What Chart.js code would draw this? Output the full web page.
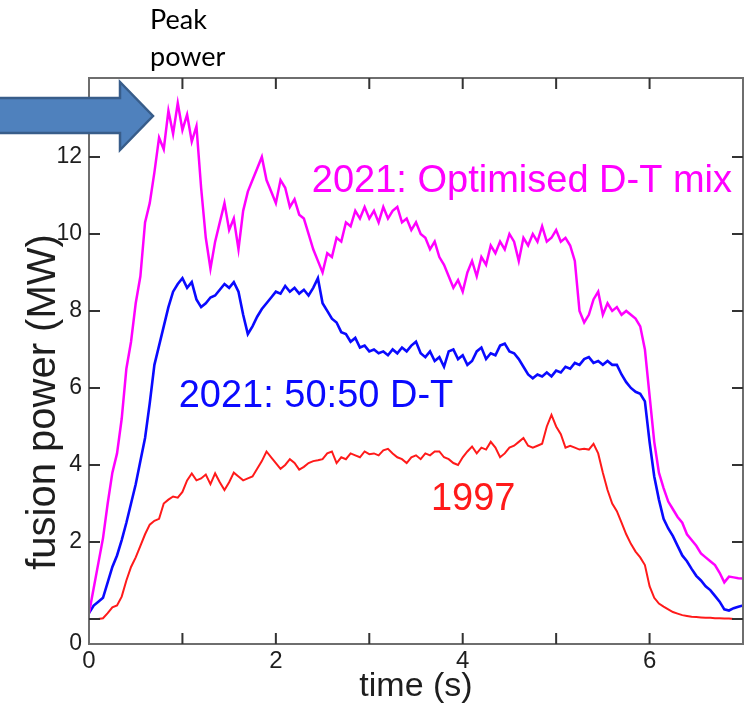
<!DOCTYPE html>
<html>
<head>
<meta charset="utf-8">
<script src="https://cdn.jsdelivr.net/npm/chart.js@4.4.1/dist/chart.umd.min.js"></script>
<style>
html,body{margin:0;padding:0;background:#fff;}
#wrap{width:745px;height:707px;position:relative;}
</style>
</head>
<body>
<div id="wrap"><canvas id="graficoFusion" width="745" height="707"></canvas></div>
<script>
//Datos (tiempo en s, potencia en MW)
const tiempo = [
  0,0.05,0.1,0.15,0.2,0.25,0.3,0.35,0.4,0.45,0.5,0.55,0.6,0.65,0.7,0.75,0.8,0.85,0.9,0.95,
  1,1.05,1.1,1.15,1.2,1.25,1.3,1.35,1.4,1.45,1.5,1.55,1.6,1.65,1.7,1.75,1.8,1.85,1.9,1.95,
  2,2.05,2.1,2.15,2.2,2.25,2.3,2.35,2.4,2.45,2.5,2.55,2.6,2.65,2.7,2.75,2.8,2.85,2.9,2.95,
  3,3.05,3.1,3.15,3.2,3.25,3.3,3.35,3.4,3.45,3.5,3.55,3.6,3.65,3.7,3.75,3.8,3.85,3.9,3.95,
  4,4.05,4.1,4.15,4.2,4.25,4.3,4.35,4.4,4.45,4.5,4.55,4.6,4.65,4.7,4.75,4.8,4.85,4.9,4.95,
  5,5.05,5.1,5.15,5.2,5.25,5.3,5.35,5.4,5.45,5.5,5.55,5.6,5.65,5.7,5.75,5.8,5.85,5.9,5.95,
  6,6.05,6.1,6.15,6.2,6.25,6.3,6.35,6.4,6.45,6.5,6.55,6.6,6.65,6.7,6.75,6.8,6.85,6.9,6.95,
  7
];

const optimizada2021 = [
  0.15,0.8,1.45,2.1,3.0,3.8,4.3,5.2,6.5,7.2,8.2,8.9,10.3,10.8,11.6,12.5,12.2,13.2,12.6,13.4,
  12.7,13.1,12.4,12.8,11.2,9.9,9.1,9.8,10.3,10.8,10.1,10.4,9.6,10.6,11.1,11.4,11.7,12.0,11.4,11.1,
  10.8,11.4,11.2,10.7,10.9,10.5,10.4,10.0,9.6,9.3,9.0,9.5,9.4,9.9,9.8,10.3,10.2,10.6,10.4,10.7,
  10.4,10.6,10.3,10.7,10.4,10.6,10.7,10.3,10.4,10.1,10.3,10.0,9.9,9.6,9.8,9.4,9.2,8.9,8.6,8.8,
  8.5,9.0,9.3,8.9,9.4,9.2,9.7,9.5,9.8,9.6,10.0,9.8,9.3,9.9,9.7,10.0,9.8,10.2,9.8,9.9,
  10.1,9.8,9.9,9.7,9.3,8.0,7.7,7.9,8.3,8.5,7.9,8.2,8.0,8.1,7.9,8.0,7.9,7.8,7.6,7.0,
  5.8,4.6,3.8,3.4,3.05,2.85,2.65,2.5,2.2,2.05,1.9,1.7,1.6,1.5,1.4,1.2,0.95,1.1,1.08,1.06,
  1.05
];

const mezcla5050 = [
  0.15,0.35,0.45,0.55,0.95,1.35,1.65,2.05,2.5,3.0,3.5,4.1,4.7,5.6,6.6,7.1,7.6,8.1,8.5,8.7,
  8.85,8.6,8.75,8.3,8.1,8.2,8.35,8.4,8.55,8.7,8.6,8.75,8.5,7.9,7.4,7.6,7.85,8.05,8.2,8.35,
  8.5,8.45,8.65,8.5,8.6,8.45,8.55,8.4,8.6,8.85,8.2,8.0,7.8,7.7,7.45,7.4,7.2,7.3,7.05,7.1,
  6.95,7.0,6.9,6.95,6.85,7.0,6.9,7.05,6.95,7.1,7.2,6.9,6.8,6.95,6.7,6.8,6.55,6.95,7.0,6.75,
  6.85,6.6,6.7,6.95,7.05,6.75,6.9,6.85,7.1,7.15,6.95,6.9,6.75,6.55,6.35,6.25,6.35,6.3,6.4,6.3,
  6.45,6.4,6.55,6.5,6.65,6.6,6.75,6.8,6.65,6.7,6.6,6.7,6.6,6.6,6.35,6.15,6.0,5.9,5.85,5.65,
  4.6,3.7,3.1,2.6,2.35,2.15,1.9,1.65,1.5,1.3,1.12,1.0,0.85,0.75,0.6,0.45,0.25,0.22,0.28,0.32,
  0.35
];

const record1997 = [
  0,0,0,0.02,0.15,0.3,0.35,0.58,1.0,1.35,1.6,1.9,2.2,2.45,2.55,2.6,3.0,3.1,3.18,3.15,
  3.3,3.6,3.78,3.6,3.65,3.75,3.5,3.78,3.55,3.35,3.55,3.8,3.7,3.6,3.65,3.7,3.9,4.1,4.35,4.2,
  4.05,3.9,4.0,4.15,4.05,3.88,3.95,4.05,4.1,4.12,4.15,4.3,4.35,4.05,4.2,4.15,4.3,4.25,4.2,4.35,
  4.28,4.3,4.25,4.38,4.42,4.3,4.2,4.15,4.05,4.2,4.25,4.15,4.3,4.25,4.35,4.35,4.2,4.15,4.05,4.0,
  4.2,4.35,4.48,4.3,4.45,4.4,4.6,4.45,4.2,4.3,4.45,4.5,4.6,4.7,4.5,4.45,4.5,4.55,5.0,5.3,
  5.0,4.8,4.45,4.5,4.45,4.4,4.42,4.4,4.55,4.3,3.8,3.35,3.0,2.8,2.5,2.2,1.95,1.75,1.6,1.4,
  0.85,0.55,0.4,0.32,0.25,0.18,0.14,0.1,0.08,0.06,0.05,0.04,0.03,0.03,0.02,0.02,0.01,0.01,0,0,
  0
];

//Marcas de los ejes
const marcasX = [1, 2, 3, 4, 5, 6];
const etiquetasX = [0, 2, 4, 6];
const marcasY = [0, 2, 4, 6, 8, 10, 12];
const baseY = -0.65;

//Textos dentro del grafico (posicion en unidades de datos)
const etiquetasSeries = ['2021: Optimised D-T mix', '2021: 50:50 D-T', '1997'];
const etiquetasTiempo = [2.385, 0.96, 3.66];
const etiquetasPotencia = [11.1, 5.5, 2.83];
const colores = ['#ff00ff', '#0a0aff', '#ff1a1a'];

const fuente = '"Liberation Sans", Arial, Helvetica, sans-serif';

function serie(valores) {
  return valores.map((v, i) => ({ x: tiempo[i], y: v }));
}

//Marco y marcas hacia adentro
const marcoPlugin = {
  id: 'marco',
  afterDraw(chart) {
    const { ctx, chartArea: a, scales: { x, y } } = chart;
    ctx.save();
    ctx.strokeStyle = '#6e6e6e';
    ctx.lineWidth = 2;
    ctx.strokeRect(a.left, a.top, a.right - a.left, a.bottom - a.top);
    ctx.strokeStyle = '#333';
    ctx.lineWidth = 2;
    ctx.beginPath();
    marcasX.forEach(v => {
      const px = x.getPixelForValue(v);
      ctx.moveTo(px, a.bottom); ctx.lineTo(px, a.bottom - 11);
      ctx.moveTo(px, a.top); ctx.lineTo(px, a.top + 11);
    });
    marcasY.forEach(v => {
      const py = y.getPixelForValue(v);
      ctx.moveTo(a.left, py); ctx.lineTo(a.left + 11, py);
      ctx.moveTo(a.right, py); ctx.lineTo(a.right - 11, py);
    });
    ctx.stroke();
    ctx.restore();
  }
};

//Textos de las series, flecha y titulo del eje y
const textosPlugin = {
  id: 'textos',
  afterDraw(chart) {
    const { ctx, scales: { x, y } } = chart;
    ctx.save();
    ctx.font = '38px ' + fuente;
    ctx.textAlign = 'left';
    ctx.textBaseline = 'alphabetic';
    etiquetasSeries.forEach((t, i) => {
      ctx.fillStyle = colores[i];
      ctx.fillText(t, x.getPixelForValue(etiquetasTiempo[i]), y.getPixelForValue(etiquetasPotencia[i]));
    });

    //titulo eje y
    ctx.fillStyle = '#1e1e1e';
    ctx.font = '40px ' + fuente;
    ctx.translate(44, 402);
    ctx.rotate(-Math.PI / 2);
    ctx.textAlign = 'center';
    ctx.textBaseline = 'middle';
    ctx.fillText('fusion power (MW)', 0, 0);
    ctx.restore();

    //flecha
    ctx.save();
    ctx.beginPath();
    ctx.moveTo(-5, 98);
    ctx.lineTo(120, 98);
    ctx.lineTo(120, 82);
    ctx.lineTo(153, 116);
    ctx.lineTo(120, 150);
    ctx.lineTo(120, 133);
    ctx.lineTo(-5, 133);
    ctx.closePath();
    ctx.fillStyle = '#4f81bd';
    ctx.fill();
    ctx.strokeStyle = '#385d8a';
    ctx.lineWidth = 2.5;
    ctx.stroke();

    ctx.fillStyle = '#000';
    ctx.font = '27px Lato, "Open Sans", sans-serif';
    ctx.textAlign = 'left';
    ctx.textBaseline = 'alphabetic';
    ctx.fillText('Peak', 150, 29);
    ctx.fillText('power', 150, 66);
    ctx.restore();
  }
};

const ctx = document.getElementById('graficoFusion').getContext('2d');
new Chart(ctx, {
  type: 'line',
  data: {
    datasets: [
      { label: etiquetasSeries[0], data: serie(optimizada2021), borderColor: colores[0], borderWidth: 2.5, pointRadius: 0, tension: 0 },
      { label: etiquetasSeries[1], data: serie(mezcla5050), borderColor: colores[1], borderWidth: 2.6, pointRadius: 0, tension: 0 },
      { label: etiquetasSeries[2], data: serie(record1997), borderColor: colores[2], borderWidth: 2, pointRadius: 0, tension: 0 }
    ]
  },
  options: {
    responsive: false,
    animation: false,
    events: [],
    layout: { padding: { top: 78, right: 2, left: 0, bottom: 0 } },
    plugins: { legend: { display: false }, tooltip: { enabled: false } },
    scales: {
      x: {
        type: 'linear',
        min: 0,
        max: 7,
        grid: { display: false, drawTicks: false },
        border: { display: false },
        afterFit: s => { s.height = 63; },
        afterBuildTicks: s => { s.ticks = etiquetasX.map(v => ({ value: v })); },
        ticks: { padding: 3, color: '#1e1e1e', font: { family: fuente, size: 24 } },
        title: { display: true, text: 'time (s)', color: '#1e1e1e', font: { family: fuente, size: 34 }, padding: { top: 0, bottom: 0 } }
      },
      y: {
        type: 'linear',
        min: baseY,
        max: 14.05,
        grid: { display: false, drawTicks: false },
        border: { display: false },
        afterFit: s => { s.width = 89; },
        afterBuildTicks: s => { s.ticks = [baseY].concat(marcasY.slice(1)).map(v => ({ value: v })); },
        ticks: {
          padding: 7,
          color: '#1e1e1e',
          font: { family: fuente, size: 23 },
          callback: v => (v === baseY ? '0' : v)
        }
      }
    }
  },
  plugins: [marcoPlugin, textosPlugin]
});
</script>
</body>
</html>
